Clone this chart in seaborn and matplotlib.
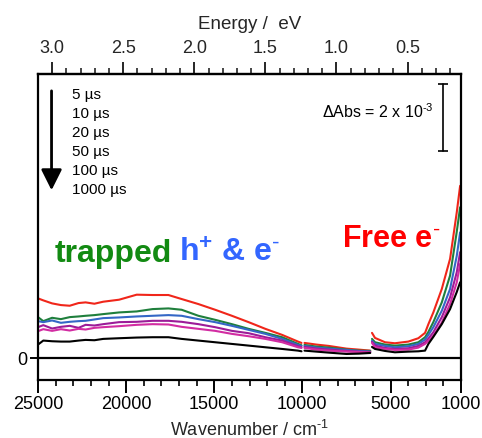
import numpy as np
import pandas as pd
import matplotlib
matplotlib.use("Agg")
import matplotlib.pyplot as plt
import matplotlib.transforms as mtransforms
from matplotlib.ticker import MultipleLocator, FixedLocator
import seaborn as sns

# ---------------- data (ΔAbs in units of 1e-3) ----------------
delays = ["5 µs", "10 µs", "20 µs", "50 µs", "100 µs", "1000 µs"]
colors = ["#F0261A", "#1F7F3C", "#3467C6", "#9C1C98", "#D22CA2", "#000000"]

# visible segment
wn_vis = [25000, 24700, 24200, 23700, 23200, 22700, 22300, 21800, 21300, 20400, 19400,
          18500, 17600, 16850, 15900, 14950, 14000, 13050, 12100, 11150, 10250, 10050]
vis_5 = [1.78, 1.72, 1.63, 1.58, 1.56, 1.64, 1.66, 1.62, 1.68, 1.74, 1.89,
         1.88, 1.88, 1.76, 1.61, 1.44, 1.26, 1.07, 0.87, 0.69, 0.49, 0.45]
vis_10 = [1.22, 1.10, 1.20, 1.16, 1.22, 1.24, 1.26, 1.28, 1.31, 1.36, 1.39,
          1.46, 1.48, 1.44, 1.26, 1.14, 1.01, 0.87, 0.75, 0.62, 0.42, 0.38]
vis_20 = [1.10, 1.07, 1.12, 1.05, 1.08, 1.10, 1.11, 1.15, 1.19, 1.21, 1.24,
          1.26, 1.28, 1.26, 1.16, 1.07, 0.96, 0.84, 0.72, 0.57, 0.39, 0.36]
vis_50 = [0.92, 0.98, 0.88, 0.93, 0.96, 0.90, 0.99, 0.97, 1.01, 1.07, 1.08,
          1.11, 1.11, 1.08, 1.01, 0.92, 0.81, 0.74, 0.62, 0.52, 0.35, 0.32]
vis_100 = [0.80, 0.86, 0.81, 0.86, 0.82, 0.87, 0.85, 0.90, 0.92, 0.95, 0.99,
           1.01, 1.00, 0.93, 0.87, 0.81, 0.72, 0.65, 0.57, 0.47, 0.32, 0.30]
vis_1000 = [0.40, 0.52, 0.50, 0.49, 0.49, 0.52, 0.54, 0.53, 0.57, 0.59, 0.61,
            0.62, 0.62, 0.57, 0.52, 0.47, 0.42, 0.37, 0.32, 0.27, 0.22, 0.20]

# near-IR segment
wn_nir = [9880, 9200, 8500, 7500, 6800, 6150]
nir_5 = [0.45, 0.40, 0.36, 0.28, 0.25, 0.22]
nir_10 = [0.39, 0.34, 0.31, 0.25, 0.22, 0.21]
nir_20 = [0.36, 0.31, 0.28, 0.24, 0.21, 0.19]
nir_50 = [0.33, 0.28, 0.25, 0.21, 0.19, 0.18]
nir_100 = [0.30, 0.25, 0.22, 0.19, 0.18, 0.16]
nir_1000 = [0.22, 0.19, 0.16, 0.12, 0.13, 0.15]

# mid-IR segment
wn_ir = [6050, 5880, 5310, 4750, 3990, 3420, 3040, 2850, 2570, 2090, 1620, 1240, 1050]
ir_5 = [0.75, 0.60, 0.47, 0.44, 0.49, 0.59, 0.75, 1.01, 1.36, 2.06, 2.96, 4.35, 5.14]
ir_10 = [0.57, 0.47, 0.40, 0.37, 0.40, 0.47, 0.62, 0.78, 1.07, 1.66, 2.46, 3.77, 4.50]
ir_20 = [0.51, 0.42, 0.36, 0.32, 0.35, 0.42, 0.55, 0.69, 0.92, 1.41, 2.06, 3.05, 3.75]
ir_50 = [0.48, 0.37, 0.30, 0.27, 0.29, 0.36, 0.47, 0.58, 0.77, 1.22, 1.81, 2.56, 3.16]
ir_100 = [0.45, 0.32, 0.27, 0.24, 0.25, 0.31, 0.42, 0.51, 0.67, 1.06, 1.61, 2.26, 2.81]
ir_1000 = [0.33, 0.27, 0.21, 0.17, 0.19, 0.20, 0.22, 0.42, 0.63, 1.01, 1.46, 1.97, 2.26]

x_major = [25000, 20000, 15000, 10000, 5000, 1000]
ev_major = [0.5, 1.0, 1.5, 2.0, 2.5, 3.0]
scale_bar = 2.0  # ΔAbs = 2 x 10^-3

# ---------------- build long table ----------------
segments = {
    "vis": (wn_vis, [vis_5, vis_10, vis_20, vis_50, vis_100, vis_1000]),
    "nir": (wn_nir, [nir_5, nir_10, nir_20, nir_50, nir_100, nir_1000]),
    "ir": (wn_ir, [ir_5, ir_10, ir_20, ir_50, ir_100, ir_1000]),
}
rows = []
for seg, (wn, series) in segments.items():
    for d, vals in zip(delays, series):
        for w, v in zip(wn, vals):
            rows.append({"wn": w, "dA": v, "delay": d, "seg": seg})
df = pd.DataFrame(rows)

# ---------------- style ----------------
sns.set_theme(style="white")
plt.rcParams["font.family"] = ["Liberation Sans", "DejaVu Sans"]
plt.rcParams["mathtext.fontset"] = "custom"
plt.rcParams["mathtext.rm"] = "Liberation Sans"
plt.rcParams["mathtext.it"] = "Liberation Sans:italic"
plt.rcParams["mathtext.bf"] = "Liberation Sans:bold"
plt.rcParams["axes.unicode_minus"] = False

fig = plt.figure(figsize=(4.82, 4.39), dpi=100)
ax = fig.add_axes([38 / 482, 1 - 381 / 439, 423 / 482, 306 / 439])

sns.lineplot(data=df, x="wn", y="dA", hue="delay", units="seg", estimator=None,
             palette=dict(zip(delays, colors)), hue_order=delays, sort=False,
             lw=1.5, legend=False, ax=ax)

ax.set_xlim(25000, 1000)
ax.set_ylim(-0.657, 8.478)
ax.axhline(0, color="black", lw=1.6, zorder=1)

for s in ax.spines.values():
    s.set_linewidth(1.6)
    s.set_color("black")

ax.xaxis.set_major_locator(FixedLocator(x_major))
ax.xaxis.set_minor_locator(MultipleLocator(1000))
ax.set_xticklabels([str(v) for v in x_major])
ax.set_yticks([0])
ax.set_yticklabels(["0"])
ax.tick_params(axis="x", which="major", direction="out", length=9, width=1.4,
               labelsize=13, colors="black", pad=1.5, bottom=True, top=False)
ax.tick_params(axis="x", which="minor", direction="out", length=4.5, width=1.2,
               bottom=True, top=False, colors="black")
ax.tick_params(axis="y", which="major", direction="out", length=6, width=1.4,
               labelsize=13, colors="black", pad=2, left=True, right=False)
ax.set_xlabel(r"Wavenumber / cm$^{\text{-1}}$", fontsize=13, labelpad=5)
ax.set_ylabel("")

sec = ax.secondary_xaxis("top", functions=(lambda w: w / 8065.54, lambda e: e * 8065.54))
sec.xaxis.set_major_locator(FixedLocator(ev_major))
sec.xaxis.set_minor_locator(MultipleLocator(0.1))
sec.tick_params(which="major", direction="out", length=9, width=1.4, labelsize=13, pad=4)
sec.tick_params(which="minor", direction="out", length=4.5, width=1.2)
sec.spines["top"].set_linewidth(1.6)
sec.set_xlabel("Energy /  eV", fontsize=13.5, labelpad=8)

# legend-like list with arrow
for i, d in enumerate(delays):
    ax.text(0.080, 0.935 - i * 0.062, d, transform=ax.transAxes, fontsize=11,
            va="center", ha="left", color="black")
ax.annotate("", xy=(0.032, 0.611), xytext=(0.032, 0.954), xycoords="axes fraction",
            arrowprops=dict(arrowstyle="-|>,head_width=0.45,head_length=0.9",
                            lw=2, color="black", mutation_scale=14))

# scale bar
trans = mtransforms.blended_transform_factory(ax.transAxes, ax.transData)
ax.plot([0.957, 0.957], [6.18, 6.18 + scale_bar], color="black", lw=1.2,
        transform=trans, clip_on=False)
ax.plot([0.957, 0.957], [6.18, 6.18 + scale_bar], ls="none", marker="_", ms=7,
        mew=1.2, color="black", transform=trans)
ax.text(0.671, 0.879, r"ΔAbs = 2 x 10$^{\text{-3}}$", transform=ax.transAxes,
        fontsize=11.5, va="center", ha="left", color="black")

# annotations
ax.text(0.040, 0.389, "trapped", transform=ax.transAxes, fontsize=23,
        fontweight="bold", color="#128A12", va="baseline", ha="left")
ax.text(0.333, 0.389, r"h$^{\mathbf{+}}$ & e$^{\mathbf{\text{-}}}$", transform=ax.transAxes,
        fontsize=23, fontweight="bold", color="#3366FF", va="baseline", ha="left")
ax.text(0.719, 0.438, r"Free e$^{\mathbf{\text{-}}}$", transform=ax.transAxes, fontsize=22,
        fontweight="bold", color="#FF0000", va="baseline", ha="left")

fig.savefig("out.png", dpi=100, facecolor="white")
